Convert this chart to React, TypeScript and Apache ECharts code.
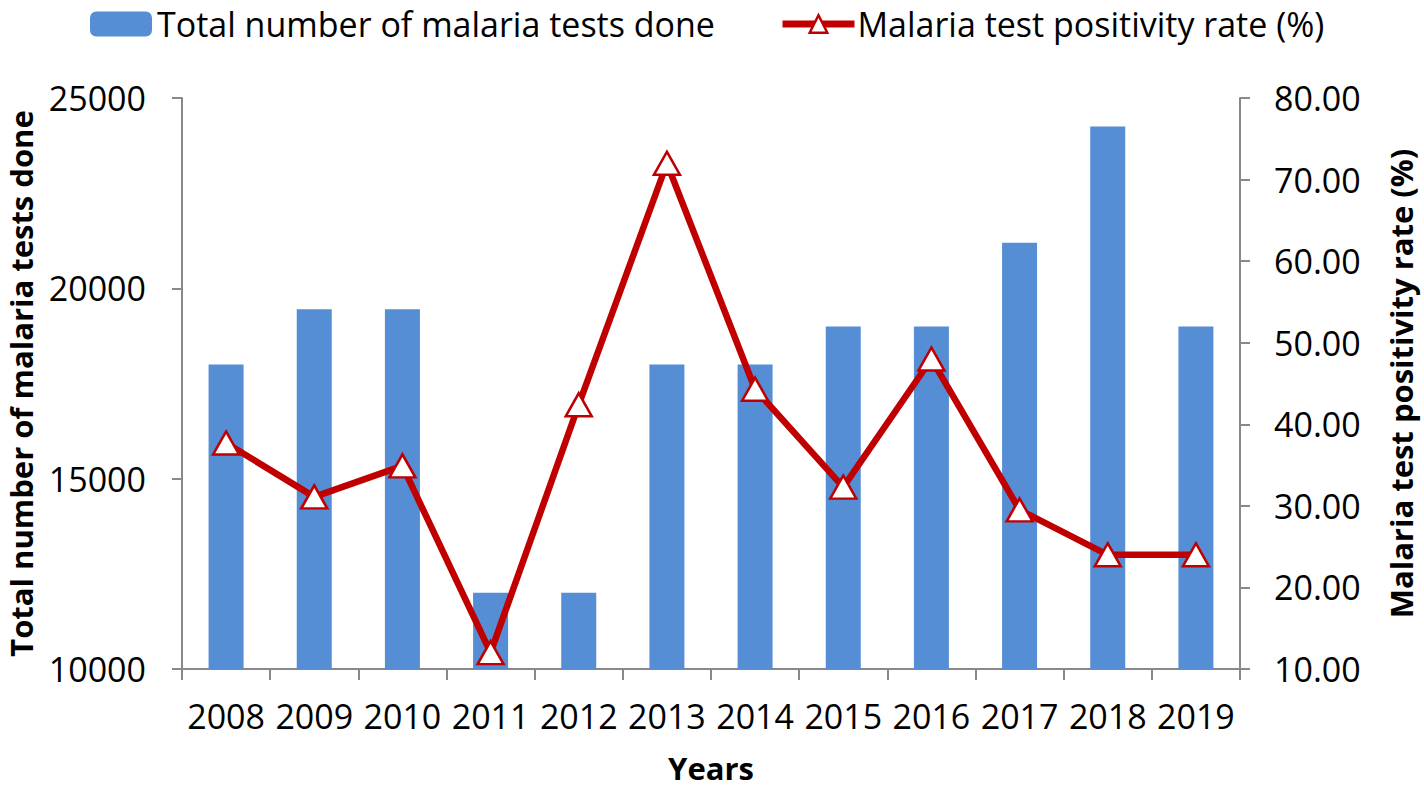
import React, { useEffect, useRef } from "react";
import * as echarts from "echarts";

const years = ["2008", "2009", "2010", "2011", "2012", "2013", "2014", "2015", "2016", "2017", "2018", "2019"];
const testsDone = [18000, 19450, 19450, 12000, 12000, 18000, 18000, 19000, 19000, 21200, 24250, 19000];
const positivityRate = [37.7, 31.1, 34.9, 12.0, 42.4, 72.0, 44.3, 32.3, 48.0, 29.5, 24.0, 24.0];
const barName = "Total number of malaria tests done";
const lineName = "Malaria test positivity rate (%)";

const FONT = "'Open Sans', sans-serif";
const AXIS_COLOR = "#898989";

export default function App() {
  const ref = useRef<HTMLDivElement>(null);
  useEffect(() => {
    if (!ref.current) return;
    const chart = echarts.init(ref.current, undefined, { renderer: "svg" });
    chart.setOption({
      animation: false,
      backgroundColor: "#ffffff",
      textStyle: { fontFamily: FONT, color: "#000" },
      legend: [
        {
          data: [barName],
          left: 85,
          top: 2,
          itemWidth: 62,
          itemHeight: 25,
          textStyle: { fontFamily: FONT, fontSize: 34, color: "#000", padding: [0, 0, 0, 0] },
        },
        {
          data: [lineName],
          left: 774,
          top: 2,
          itemWidth: 72,
          itemHeight: 22,
          lineStyle: { width: 7, color: "#C00000" },
          itemStyle: { color: "#ffffff", borderColor: "#C00000", borderWidth: 2.5 },
          textStyle: { fontFamily: FONT, fontSize: 34, color: "#000", padding: [0, 0, 0, -2] },
        },
      ],
      grid: {
        left: 182,
        right: 184,
        top: 98,
        bottom: 119,
        containLabel: false,
        outerBoundsMode: "none",
      },
      xAxis: {
        type: "category",
        data: years,
        boundaryGap: true,
        name: "Years",
        nameLocation: "middle",
        nameGap: 83,
        nameTextStyle: { fontFamily: FONT, fontSize: 31, fontWeight: "bold", color: "#000" },
        axisLine: { lineStyle: { color: AXIS_COLOR, width: 2 } },
        axisTick: { show: true, length: 11, interval: 0, lineStyle: { color: AXIS_COLOR, width: 2 } },
        axisLabel: { interval: 0, fontFamily: FONT, fontSize: 34, color: "#000", margin: 30 },
      },
      yAxis: [
        {
          type: "value",
          min: 10000,
          max: 25000,
          interval: 5000,
          position: "left",
          name: barName,
          nameLocation: "middle",
          nameGap: 146,
          nameRotate: 90,
          nameTextStyle: { fontFamily: FONT, fontSize: 31, fontWeight: "bold", color: "#000" },
          axisLine: { show: true, lineStyle: { color: AXIS_COLOR, width: 2 } },
          axisTick: { show: true, length: 10, lineStyle: { color: AXIS_COLOR, width: 2 } },
          axisLabel: {
            fontFamily: FONT,
            fontSize: 34,
            color: "#000",
            margin: 36,
            formatter: (v: number) => String(v),
          },
          splitLine: { show: false },
        },
        {
          type: "value",
          min: 10,
          max: 80,
          interval: 10,
          position: "right",
          name: lineName,
          nameLocation: "middle",
          nameGap: 145,
          nameRotate: 90,
          nameTextStyle: { fontFamily: FONT, fontSize: 31, fontWeight: "bold", color: "#000" },
          axisLine: { show: true, lineStyle: { color: AXIS_COLOR, width: 2 } },
          axisTick: { show: true, length: 10, lineStyle: { color: AXIS_COLOR, width: 2 } },
          axisLabel: {
            fontFamily: FONT,
            fontSize: 34,
            color: "#000",
            margin: 34,
            formatter: (v: number) => v.toFixed(2),
          },
          splitLine: { show: false },
        },
      ],
      series: [
        {
          name: barName,
          type: "bar",
          yAxisIndex: 0,
          data: testsDone,
          barWidth: 35,
          itemStyle: { color: "#558ED5" },
        },
        {
          name: lineName,
          type: "line",
          yAxisIndex: 1,
          data: positivityRate,
          symbol: "triangle",
          symbolSize: [26, 23],
          lineStyle: { color: "#C00000", width: 6.5 },
          itemStyle: { color: "#ffffff", borderColor: "#C00000", borderWidth: 2.5 },
          z: 3,
        },
      ],
    });
    return () => chart.dispose();
  }, []);
  return (
    <div
      ref={ref}
      style={{ position: "fixed", left: 0, top: 0, width: 1424, height: 788, background: "#fff" }}
    />
  );
}
